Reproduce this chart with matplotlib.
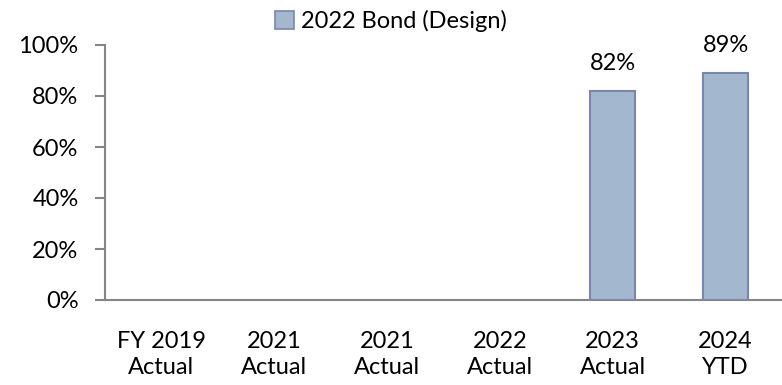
import matplotlib
matplotlib.use("Agg")
import matplotlib.pyplot as plt
from matplotlib.patches import Patch
from matplotlib.ticker import FuncFormatter, MultipleLocator

categories = ["FY 2019\nActual", "2021\nActual", "2021\nActual", "2022\nActual", "2023\nActual", "2024\nYTD"]
values = [None, None, None, None, 0.82, 0.89]
series_name = "2022 Bond (Design)"

BAR_FILL = "#A3B8CF"
BAR_EDGE = "#7A86AE"
AXIS_GREY = "#868686"

plt.rcParams["font.family"] = ["Lato", "DejaVu Sans"]
plt.rcParams["font.size"] = 17

fig = plt.figure(figsize=(7.82, 3.85), dpi=100)
ax = fig.add_axes([105 / 782, 1 - 300 / 385, (782 - 105) / 782, 255 / 385])

x = list(range(len(categories)))
heights = [v if v is not None else 0 for v in values]
bars = ax.bar(x, heights, width=0.4, color=BAR_FILL, edgecolor=BAR_EDGE,
              linewidth=1.5, zorder=3)
for b, v in zip(bars, values):
    if v is None:
        b.set_visible(False)
    else:
        ax.annotate(f"{v:.0%}", (b.get_x() + b.get_width() / 2, v),
                    xytext=(0, 12), textcoords="offset points",
                    ha="center", va="bottom", fontsize=17)

ax.set_xlim(-0.5, len(categories) - 0.5)
ax.set_ylim(0, 1.0)
ax.yaxis.set_major_locator(MultipleLocator(0.2))
ax.yaxis.set_major_formatter(FuncFormatter(lambda v, _: f"{v:.0%}"))
ax.set_xticks(x)
ax.set_xticklabels(categories, linespacing=1.3)

for s in ["top", "right"]:
    ax.spines[s].set_visible(False)
for s in ["left", "bottom"]:
    ax.spines[s].set_color(AXIS_GREY)
    ax.spines[s].set_linewidth(1.5)
ax.tick_params(axis="y", direction="out", length=7, width=1.5, color=AXIS_GREY, pad=12)
ax.tick_params(axis="x", length=0, pad=22)

legend_handle = Patch(facecolor=BAR_FILL, edgecolor=BAR_EDGE, linewidth=1.2)
fig.legend(handles=[legend_handle], labels=[series_name], loc="upper center",
           bbox_to_anchor=(0.5, 1.03), frameon=False, handlelength=0.8,
           handleheight=0.8, handletextpad=0.3, fontsize=17)

fig.savefig("out.png", dpi=100)
